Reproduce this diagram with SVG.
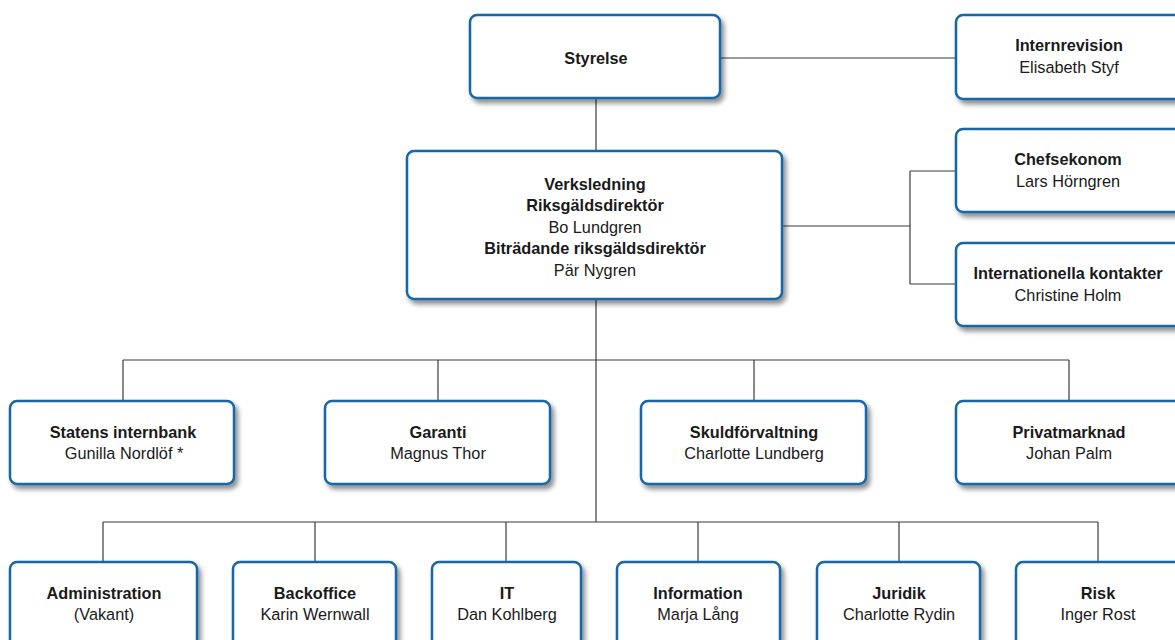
<svg xmlns="http://www.w3.org/2000/svg" width="1175" height="640" viewBox="0 0 1175 640">
<defs>
<filter id="sh" x="-10%" y="-10%" width="130%" height="140%">
<feDropShadow dx="3" dy="4" stdDeviation="2.5" flood-color="#000" flood-opacity="0.45"/>
</filter>
<style>
.box{fill:#fff;stroke:#1466a8;stroke-width:2.5;filter:url(#sh)}
.t{font-family:"Liberation Sans",Arial,sans-serif;font-size:16.3px;fill:#1a1a1a;text-anchor:middle}
.b{font-weight:bold}
.c{fill:none;stroke:#3a3a3a;stroke-width:1.2}
</style>
</defs>
<rect width="1175" height="640" fill="#fff"/>
<g id="connectors">
<path class="c" d="M720 58H956"/>
<path class="c" d="M596 98V151"/>
<path class="c" d="M782 226H910M910 171V284M910 171H956M910 284H956"/>
<path class="c" d="M596 299V522"/>
<path class="c" d="M123 360H1069M123 360V401M438 360V401M754 360V401M1069 360V401"/>
<path class="c" d="M103 522H1098M103 522V562M315 522V562M506 522V562M698 522V562M899 522V562M1098 522V562"/>
</g>
<g id="styrelse"><rect class="box" x="470" y="15" width="250" height="83" rx="7"/><text class="t b" x="596" y="64">Styrelse</text></g>
<g id="internrevision"><rect class="box" x="956" y="15" width="235" height="84" rx="7"/><text class="t b" x="1069" y="51">Internrevision</text><text class="t" x="1069" y="73">Elisabeth Styf</text></g>
<g id="verksledning"><rect class="box" x="407" y="151" width="375" height="148" rx="7"/>
<text class="t b" x="595" y="190">Verksledning</text>
<text class="t b" x="595" y="211">Riksgäldsdirektör</text>
<text class="t" x="595" y="233">Bo Lundgren</text>
<text class="t b" x="595" y="254">Biträdande riksgäldsdirektör</text>
<text class="t" x="595" y="276">Pär Nygren</text></g>
<g id="chefsekonom"><rect class="box" x="956" y="129" width="235" height="83" rx="7"/><text class="t b" x="1068" y="165">Chefsekonom</text><text class="t" x="1068" y="187">Lars Hörngren</text></g>
<g id="internationella"><rect class="box" x="956" y="243" width="235" height="83" rx="7"/><text class="t b" x="1068" y="279">Internationella kontakter</text><text class="t" x="1068" y="301">Christine Holm</text></g>
<g id="statens"><rect class="box" x="10" y="401" width="224" height="83" rx="7"/><text class="t b" x="123" y="438">Statens internbank</text><text class="t" x="124" y="459">Gunilla Nordlöf *</text></g>
<g id="garanti"><rect class="box" x="325" y="401" width="225" height="83" rx="7"/><text class="t b" x="438" y="438">Garanti</text><text class="t" x="438" y="459">Magnus Thor</text></g>
<g id="skuld"><rect class="box" x="641" y="401" width="225" height="83" rx="7"/><text class="t b" x="754" y="438">Skuldförvaltning</text><text class="t" x="754" y="459">Charlotte Lundberg</text></g>
<g id="privat"><rect class="box" x="956" y="401" width="235" height="83" rx="7"/><text class="t b" x="1069" y="438">Privatmarknad</text><text class="t" x="1069" y="459">Johan Palm</text></g>
<g id="administration"><rect class="box" x="10" y="562" width="187" height="100" rx="7"/><text class="t b" x="104" y="599">Administration</text><text class="t" x="104" y="620">(Vakant)</text></g>
<g id="backoffice"><rect class="box" x="233" y="562" width="163" height="100" rx="7"/><text class="t b" x="315" y="599">Backoffice</text><text class="t" x="315" y="620">Karin Wernwall</text></g>
<g id="it"><rect class="box" x="432" y="562" width="149" height="100" rx="7"/><text class="t b" x="507" y="599">IT</text><text class="t" x="507" y="620">Dan Kohlberg</text></g>
<g id="information"><rect class="box" x="617" y="562" width="163" height="100" rx="7"/><text class="t b" x="698" y="599">Information</text><text class="t" x="698" y="620">Marja Lång</text></g>
<g id="juridik"><rect class="box" x="817" y="562" width="163" height="100" rx="7"/><text class="t b" x="899" y="599">Juridik</text><text class="t" x="899" y="620">Charlotte Rydin</text></g>
<g id="risk"><rect class="box" x="1016" y="562" width="175" height="100" rx="7"/><text class="t b" x="1098" y="599">Risk</text><text class="t" x="1098" y="620">Inger Rost</text></g>
</svg>
